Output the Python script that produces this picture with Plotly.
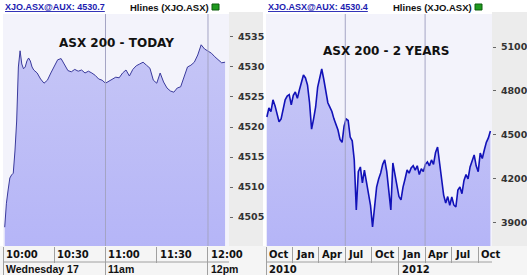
import plotly.graph_objects as go
import pandas as pd

# ---------------- data ----------------
today_minutes = [1, 2, 3, 4, 5, 6, 7, 8, 9, 10, 11, 12, 13, 14, 15, 16, 17, 18,
                 20, 22, 24, 26, 28, 30, 32, 34, 36, 38, 40, 42, 44, 46, 48, 50,
                 52, 54, 56, 58, 60, 62, 64, 66, 68, 70, 72, 74, 76, 78, 80, 82,
                 84, 86, 88, 90, 92, 94, 96, 98, 100, 102, 104, 106, 108, 110,
                 112, 114, 116, 118, 120, 122, 124, 126, 128, 130]
today_values = [4503.3, 4507.3, 4509.5, 4511.5, 4512.0, 4512.3, 4516.0, 4521.0,
                4530.0, 4532.7, 4530.5, 4529.7, 4530.0, 4531.0, 4531.5, 4531.0,
                4530.0, 4529.5, 4529.0, 4528.0, 4527.3, 4527.8, 4529.0, 4530.0,
                4531.2, 4531.4, 4530.5, 4529.4, 4529.2, 4529.6, 4529.3, 4529.5,
                4529.0, 4529.3, 4529.0, 4528.6, 4528.0, 4527.8, 4527.3, 4527.6,
                4528.0, 4528.3, 4528.2, 4529.0, 4529.5, 4528.5, 4529.6, 4530.2,
                4530.5, 4530.8, 4530.3, 4529.8, 4527.8, 4527.3, 4529.0, 4527.5,
                4526.5, 4526.0, 4525.8, 4526.5, 4526.7, 4528.5, 4530.0, 4530.3,
                4530.8, 4532.0, 4533.7, 4533.0, 4532.6, 4532.3, 4531.7, 4531.2,
                4530.7, 4530.8]

two_year_start = "2010-10-04"
two_year_values = [4623, 4684, 4660, 4740, 4700, 4640, 4590, 4610, 4670, 4740,
                   4765, 4775, 4705, 4770, 4793, 4750, 4807, 4860, 4909, 4889,
                   4840, 4720, 4540, 4610, 4691, 4827, 4900, 4950, 4880, 4800,
                   4720, 4690, 4660, 4610, 4570, 4534, 4470, 4450, 4560, 4610,
                   4600, 4486, 4460, 4330, 3989, 4250, 4282, 4173, 4260, 4180,
                   4105, 4020, 3873, 4000, 4145, 4200, 4241, 4300, 4330, 4250,
                   4110, 3989, 4309, 4230, 4180, 4080, 4057, 4145, 4200, 4261,
                   4240, 4275, 4290, 4260, 4290, 4230, 4270, 4250, 4300, 4316,
                   4290, 4330, 4300, 4380, 4418, 4300, 4200, 4090, 4036, 4080,
                   4020, 4077, 4023, 4009, 4125, 4145, 4100, 4190, 4230, 4200,
                   4282, 4330, 4364, 4290, 4250, 4377, 4340, 4398, 4450, 4480,
                   4527]

today_ticks = ["10:00", "10:30", "11:00", "11:30", "12:00"]
today_day_labels = [("10:00", "Wednesday 17"), ("11:00", "11am"), ("12:00", "12pm")]
today_yticks = [4505, 4510, 4515, 4520, 4525, 4530, 4535]

two_year_ticks = ["2010-10-01", "2011-01-01", "2011-04-01", "2011-07-01",
                  "2011-10-01", "2012-01-01", "2012-04-01", "2012-07-01",
                  "2012-10-01"]
two_year_tick_text = ["Oct", "Jan", "Apr", "Jul", "Oct", "Jan", "Apr", "Jul", "Oct"]
two_year_year_labels = [("2010-10-01", "2010"), ("2012-01-01", "2012")]
two_year_grid = ["2011-07-01", "2012-04-01"]
two_year_yticks = [3900, 4200, 4500, 4800, 5100]

# ---------------- build ----------------
day = "2012-10-17 "
today_x = pd.Timestamp(day + "10:00") + pd.to_timedelta(today_minutes, unit="m")
two_year_x = pd.date_range(two_year_start, periods=len(two_year_values), freq="7D")

W, H = 527, 275
def px(x):
    return x / W
def py(y):
    return 1 - y / H

plot_top, plot_bot = 14, 246
ydom = [py(plot_bot), py(plot_top)]
fill_scale = [[0, "#b5b5f7"], [1, "#c6c6f6"]]

fig = go.Figure()
fig.add_trace(go.Scatter(
    x=today_x, y=today_values, mode="lines",
    line=dict(color="#3a3a9c", width=1),
    fill="tozeroy",
    fillgradient=dict(type="vertical", start=4500, stop=4535, colorscale=fill_scale),
    xaxis="x", yaxis="y", hoverinfo="skip", showlegend=False))
fig.add_trace(go.Scatter(
    x=two_year_x, y=two_year_values, mode="lines",
    line=dict(color="#1212b8", width=1.6),
    fill="tozeroy",
    fillgradient=dict(type="vertical", start=3743, stop=4950, colorscale=fill_scale),
    xaxis="x2", yaxis="y2", hoverinfo="skip", showlegend=False))

tick_col = "#a0a0a0"
ytick_font = dict(family="DejaVu Sans", size=9.5, color="#333333", weight="bold")

fig.update_layout(
    width=W, height=H, margin=dict(l=0, r=0, t=0, b=0),
    paper_bgcolor="#ffffff", plot_bgcolor="#f3f3fb",
    xaxis=dict(domain=[px(3), px(229)], type="date",
               range=[day + "10:00", day + "12:12:18"],
               tickvals=[day + t for t in ["10:00", "11:00", "12:00"]],
               ticks="outside", ticklen=29, tickcolor=tick_col, tickwidth=1,
               showticklabels=False, showgrid=False, zeroline=False, showline=False,
               minor=dict(tickvals=[day + t for t in ["10:30", "11:30"]],
                          ticks="outside", ticklen=16, tickcolor=tick_col,
                          showgrid=False),
               anchor="y", fixedrange=True),
    yaxis=dict(domain=ydom, range=[4500.17, 4538.83], side="right", anchor="x",
               tickvals=today_yticks, ticks="outside", ticklen=3,
               tickcolor="#666666", tickfont=ytick_font, ticklabelstandoff=3,
               showgrid=False, zeroline=False, showline=False, fixedrange=True),
    xaxis2=dict(domain=[px(266), px(492)], type="date",
                range=["2010-10-01", "2012-11-17 12:00"],
                tickvals=["2010-10-01", "2012-01-01"],
                ticks="outside", ticklen=29, tickcolor=tick_col, tickwidth=1,
                showticklabels=False, showgrid=False, zeroline=False, showline=False,
                minor=dict(tickvals=[t for t in two_year_ticks
                                     if t not in ("2010-10-01", "2012-01-01")],
                           ticks="outside", ticklen=16, tickcolor=tick_col,
                           showgrid=False),
                anchor="y2", fixedrange=True),
    yaxis2=dict(domain=ydom, range=[3743, 5325], side="right", anchor="x2",
                tickvals=two_year_yticks, ticks="outside", ticklen=3,
                tickcolor="#666666", tickfont=ytick_font, ticklabelstandoff=3,
                showgrid=False, zeroline=False, showline=False, fixedrange=True),
)

shapes = []
for x0, x1 in [(229, 266), (492, 527)]:
    shapes.append(dict(type="rect", xref="paper", yref="paper", x0=px(x0), x1=px(x1),
                       y0=0, y1=py(12), fillcolor="#ececec", line_width=0, layer="below"))
shapes.append(dict(type="rect", xref="paper", yref="paper", x0=0, x1=1,
                   y0=0, y1=py(plot_bot), fillcolor="#f5f5f5", line_width=0, layer="below"))
for x0, x1 in [(0, 3), (263, 266)]:
    shapes.append(dict(type="rect", xref="paper", yref="paper", x0=px(x0), x1=px(x1),
                       y0=py(plot_bot), y1=py(12), fillcolor="#ffffff", line_width=0,
                       layer="below"))
for xr in ["x domain", "x2 domain"]:
    shapes.append(dict(type="line", xref=xr, yref="paper", x0=0, x1=1,
                       y0=py(262), y1=py(262), line=dict(color=tick_col, width=1)))
for t in ["11:00", "12:00"]:
    shapes.append(dict(type="line", xref="x", yref="y domain", x0=day + t, x1=day + t,
                       y0=0, y1=1, line=dict(color="#a4a4c4", width=1), layer="above"))
for t in two_year_grid:
    shapes.append(dict(type="line", xref="x2", yref="y2 domain", x0=t, x1=t,
                       y0=0, y1=1, line=dict(color="#a4a4c4", width=1), layer="above"))
for x0 in [212, 475]:
    shapes.append(dict(type="rect", xref="paper", yref="paper", x0=px(x0), x1=px(x0 + 7),
                       y0=py(10), y1=py(4), fillcolor="#1e9a1e",
                       line=dict(color="#0c5c0c", width=1)))
fig.update_layout(shapes=shapes)

ann = []
row1_y, row2_y = py(254), py(269)
num_font = dict(family="DejaVu Sans", size=10, color="#111111", weight="bold")
txt_font = dict(family="Liberation Sans", size=10.5, color="#111111", weight="bold")
for t in today_ticks:
    ann.append(dict(x=day + t, xref="x", y=row1_y, yref="paper", text=t,
                    xanchor="left", yanchor="middle", xshift=1, showarrow=False,
                    font=num_font))
for t, s in today_day_labels:
    ann.append(dict(x=day + t, xref="x", y=row2_y, yref="paper", text=s,
                    xanchor="left", yanchor="middle", xshift=1, showarrow=False,
                    font=txt_font))
for t, s in zip(two_year_ticks, two_year_tick_text):
    ann.append(dict(x=t, xref="x2", y=row1_y, yref="paper", text=s,
                    xanchor="left", yanchor="middle", xshift=1, showarrow=False,
                    font=num_font))
for t, s in two_year_year_labels:
    ann.append(dict(x=t, xref="x2", y=row2_y, yref="paper", text=s,
                    xanchor="left", yanchor="middle", xshift=1, showarrow=False,
                    font=num_font))
head_font_blue = dict(family="Liberation Sans", size=9, color="#1c1cb0", weight="bold")
head_font_blk = dict(family="Liberation Sans", size=9.5, color="#111111", weight="bold")
for x0, val in [(3, "4530.7"), (266, "4530.4")]:
    ann.append(dict(x=px(x0), xref="paper", y=py(7), yref="paper",
                    text="<u>XJO.ASX@AUX: " + val + "</u>", xanchor="left",
                    yanchor="middle", showarrow=False, font=head_font_blue))
    ann.append(dict(x=px(x0 + 125), xref="paper", y=py(7), yref="paper",
                    text="Hlines (XJO.ASX)", xanchor="left", yanchor="middle",
                    showarrow=False, font=head_font_blk))
ttl_font = dict(family="DejaVu Sans", size=12, color="#111111", weight="bold")
ann.append(dict(x=0.5, xref="x domain", y=py(43), yref="paper", text="ASX 200 - TODAY",
                xanchor="center", yanchor="middle", showarrow=False, font=ttl_font))
ann.append(dict(x=0.533, xref="x2 domain", y=py(51), yref="paper",
                text="ASX 200 - 2 YEARS", xanchor="center", yanchor="middle",
                showarrow=False, font=ttl_font))
fig.update_layout(annotations=ann)

fig.write_html("out.html")
